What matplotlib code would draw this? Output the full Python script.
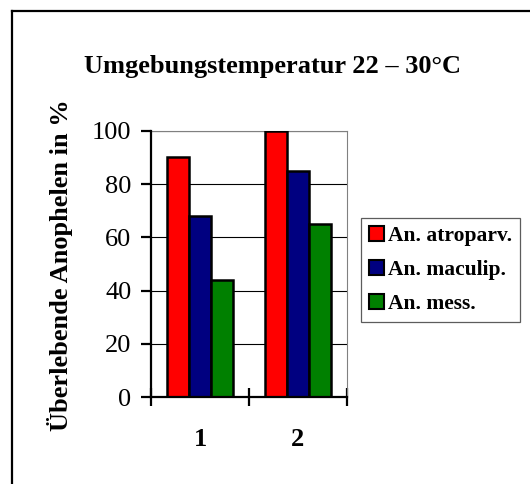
import matplotlib
matplotlib.use("Agg")
import matplotlib.pyplot as plt
from matplotlib.patches import Patch
from matplotlib.lines import Line2D
import numpy as np

plt.rcParams['font.family'] = ['Liberation Serif', 'DejaVu Serif']

title = "Umgebungstemperatur 22 – 30°C"
ylabel = "Überlebende Anophelen in %"
categories = ["1", "2"]
series_names = ["An. atroparv.", "An. maculip.", "An. mess."]
atroparv = [90, 100]
maculip = [68, 85]
mess = [44, 65]
series_values = [atroparv, maculip, mess]
colors = ["#FF0000", "#000080", "#008000"]
yticks = [0, 20, 40, 60, 80, 100]

W, H = 530, 484
fig = plt.figure(figsize=(W / 100, H / 100), dpi=100)

# outer chart frame (left and top edges visible)
fig.add_artist(Line2D([12 / W, 12 / W], [-0.1, 1 - 10.7 / H], transform=fig.transFigure,
                      color="black", lw=1.6))
fig.add_artist(Line2D([12 / W, 1.1], [1 - 10.7 / H, 1 - 10.7 / H], transform=fig.transFigure,
                      color="black", lw=1.6))

ax = fig.add_axes([151 / W, 1 - 397.3 / H, 196 / W, 266.6 / H])

x = np.arange(len(categories))
width = 0.2215
offsets = [-width, 0, width]
for vals, off, col, name in zip(series_values, offsets, colors, series_names):
    ax.bar(x + off, vals, width, color=col, edgecolor="black", linewidth=1.8,
           label=name, zorder=3)

ax.set_xlim(-0.5, len(categories) - 0.5)
ax.set_ylim(0, 100)
ax.set_yticks(yticks)
ax.set_yticklabels([str(v) for v in yticks], fontsize=19)
ax.set_xticks(x)
ax.set_xticklabels(categories, fontsize=19, fontweight="bold")
ax.tick_params(axis="x", which="major", length=0, pad=22)
ax.set_xticks(np.arange(-0.5, len(categories)), minor=True)
ax.tick_params(axis="x", which="minor", direction="inout", length=13, width=1.6)
ax.tick_params(axis="y", direction="out", length=7, width=1.6, pad=7)

ax.yaxis.grid(True, color="black", linewidth=0.8, zorder=0)
ax.set_axisbelow(True)
for s in ["left", "bottom"]:
    ax.spines[s].set_linewidth(1.6)
    ax.spines[s].set_zorder(4)
for s in ["top", "right"]:
    ax.spines[s].set_linewidth(0.8)
    ax.spines[s].set_color("#808080")

fig.text(272 / W, 1 - 67 / H, title, ha="center", va="center", fontsize=19,
         fontweight="bold")
fig.text(60 / W, 1 - 265 / H, ylabel, ha="center", va="center", rotation=90,
         fontsize=19, fontweight="bold")

handles = [Patch(facecolor=c, edgecolor="black", linewidth=1.5) for c in colors]
leg = fig.legend(handles, series_names, loc="upper left",
                 bbox_to_anchor=(360.7 / W, 1 - 218 / H),
                 prop={"size": 15.5, "weight": "bold"}, frameon=True, fancybox=False,
                 edgecolor="#333333", borderaxespad=0, borderpad=0.38,
                 handlelength=0.68, handleheight=0.68, handletextpad=0.2,
                 labelspacing=0.65)
leg.get_frame().set_linewidth(0.9)

fig.savefig("out.png", dpi=100)
